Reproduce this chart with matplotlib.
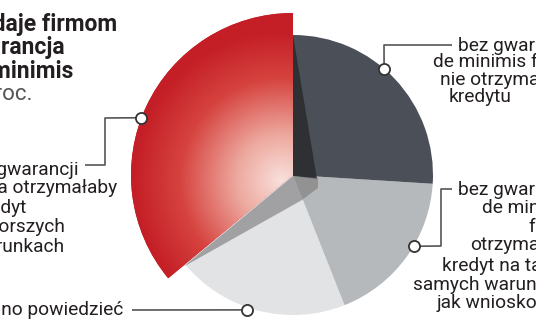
import numpy as np
import matplotlib.pyplot as plt
from matplotlib.colors import LinearSegmentedColormap
from matplotlib.patches import Polygon

# shares in percent, counter-clockwise from 12 o'clock
labels = ["gorsze warunki", "trudno powiedzieć", "te same warunki", "brak kredytu"]
values = [36, 20, 18, 26]
colors = ["#C41E26", "#E2E3E5", "#B6B9BC", "#4B5058"]

W, H = 536, 332
CX, CY = 293, H - 175
R_BASE, R_RED = 140, 162
TXT = "#231F20"
LINE = "#555555"

fig = plt.figure(figsize=(W / 100, H / 100), dpi=100)
ax = fig.add_axes([0, 0, 1, 1])

wedges, _ = ax.pie(values, colors=colors, startangle=90, counterclock=True,
                   center=(CX, CY), radius=R_BASE,
                   wedgeprops=dict(linewidth=0))
red = wedges[0]
red.set_radius(R_RED)

# radial gradient inside the red slice
cmap = LinearSegmentedColormap.from_list(
    "redgrad", [(0, "#F9E0DC"), (0.3, "#EDA99F"), (0.68, "#D6433F"), (1, "#C41E26")])
xs = np.linspace(CX - R_RED, CX, 200)
ys = np.linspace(CY - R_RED, CY + R_RED, 400)
gx, gy = np.meshgrid(xs, ys)
dist = np.hypot(gx - (CX - 11), gy - (CY - 5)) / 150
img = ax.imshow(np.clip(dist, 0, 1), cmap=cmap, vmin=0, vmax=1, origin="lower",
                extent=(xs[0], xs[-1], ys[0], ys[-1]), zorder=2, interpolation="bilinear")
img.set_clip_path(red)
red.set_zorder(1)

# side walls / shadows of the raised slice
wall = Polygon([(CX, CY + R_BASE), (CX, CY - 1), (CX + 24, CY - 4)],
               closed=True, fc="#2E3034", ec="none", zorder=3)
shadow = Polygon([(CX, CY - 1), (CX + 25, CY - 3), (CX + 25, CY - 13),
                  (CX + 9, CY - 25), (CX - 110, CY - 92)],
                 closed=True, fc="#7F7D7E", ec="none", alpha=0.65, zorder=3)
ax.add_patch(wall)
ax.add_patch(shadow)

ax.set_xlim(0, W)
ax.set_ylim(0, H)
ax.set_aspect("equal")
ax.axis("off")

# leader lines: dot angle, dot radius, elbow path (image coords)
leaders = [
    (159.3, R_RED, [(105, 118), (105, 165), (85, 165)]),
    (251.2, 142.5, [(132, 310)]),
    (-30.6, R_BASE, [(441, 246), (441, 189), (452, 189)]),
    (49.4, R_BASE, [(384, 45), (452, 45)]),
]
for ang, r, path in leaders:
    dx = CX + r * np.cos(np.radians(ang))
    dy = CY + r * np.sin(np.radians(ang))
    px = [dx] + [p[0] for p in path]
    py = [dy] + [H - p[1] for p in path]
    ax.plot(px, py, color=LINE, lw=1.2, zorder=5, solid_capstyle="butt")
    ax.plot(dx, dy, "o", ms=8, mfc="white", mec="#333333", mew=1.3, zorder=6)

font = "Roboto"
FS = 13.8

# title (cropped on the left)
title = [("Co daje firmom", 117, 30.5), ("gwarancja", 65, 54), ("de minimis", 73, 78)]
for s, xe, yb in title:
    ax.text(xe, H - yb, s, ha="right", va="baseline", fontsize=16.5,
            fontweight="bold", color=TXT, family=font)
ax.text(32, H - 100, "w proc.", ha="right", va="baseline", fontsize=16,
        color="#555555", family=font)

# left label, right-aligned at visible ends
left = [("Bez gwarancji", 79, 175), ("firma otrzymałaby", 117, 193),
        ("kredyt", 27, 213), ("na gorszych", 65, 232), ("warunkach", 65, 252)]
for s, xe, yb in left:
    ax.text(xe, H - yb, s, ha="right", va="baseline", fontsize=FS,
            color=TXT, family=font)

ax.text(123, H - 315, "Trudno powiedzieć", ha="right", va="baseline",
        fontsize=FS, color=TXT, family=font)

# right labels, left-aligned at visible starts
right = [("bez gwarancji", 458, 51), ("de minimis firma", 433, 67),
         ("nie otrzymałaby", 440, 85), ("kredytu", 449, 102),
         ("bez gwarancji", 458, 195), ("de minimis", 482, 213), ("firma", 528, 232),
         ("otrzymałaby", 470, 250), ("kredyt na takich", 442, 271),
         ("samych warunkach", 413, 290), ("jak wnioskowała", 437, 308)]
for s, xs0, yb in right:
    ax.text(xs0, H - yb, s, ha="left", va="baseline", fontsize=FS,
            color=TXT, family=font)

fig.savefig("out.png", dpi=100)
